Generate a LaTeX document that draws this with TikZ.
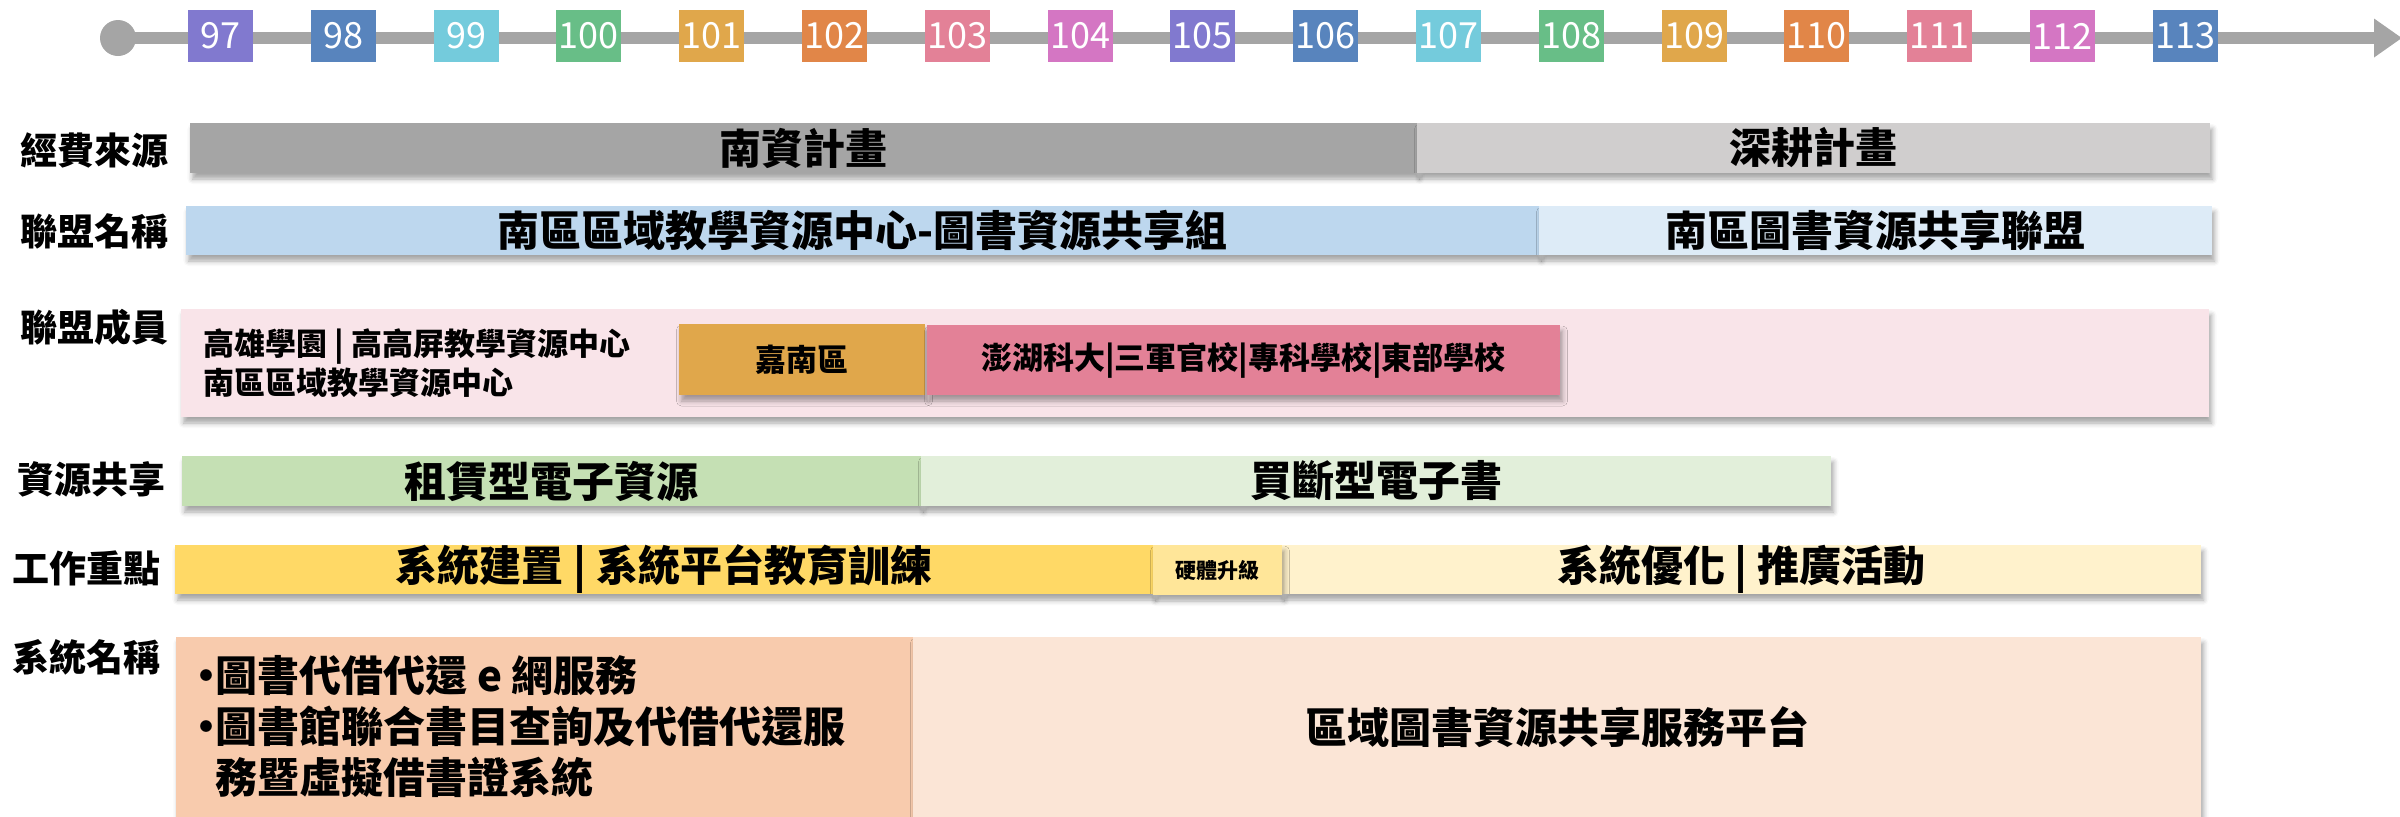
\documentclass[tikz,border=0pt]{standalone}
\usepackage{fontspec}
\setmainfont{Noto Sans CJK TC}
\usetikzlibrary{arrows.meta,shadows.blur}

\definecolor{tlgrey}{HTML}{A5A5A5}
\definecolor{yrpurple}{HTML}{8179CF}
\definecolor{yrblue}{HTML}{5884BD}
\definecolor{yrcyan}{HTML}{74CBDC}
\definecolor{yrgreen}{HTML}{68BE87}
\definecolor{yrorange}{HTML}{E0A74B}
\definecolor{yrdorange}{HTML}{E18648}
\definecolor{yrpink}{HTML}{E38197}
\definecolor{yrmagenta}{HTML}{D476C3}
\definecolor{fundgrey}{HTML}{A5A5A5}
\definecolor{fundlight}{HTML}{D0CECE}
\definecolor{allyblue}{HTML}{BDD7EE}
\definecolor{allylight}{HTML}{DDEBF7}
\definecolor{membpink}{HTML}{F9E4E9}
\definecolor{sharegreen}{HTML}{C5E0B4}
\definecolor{sharelight}{HTML}{E2EFDA}
\definecolor{workyellow}{HTML}{FFD966}
\definecolor{workmid}{HTML}{FFE699}
\definecolor{worklight}{HTML}{FFF2CC}
\definecolor{syspeach}{HTML}{F8CBAD}
\definecolor{syslight}{HTML}{FBE5D6}

\newcommand{\sysbullet}{\makebox[7.6pt][c]{•}}

\begin{document}
\begin{tikzpicture}[x=0.4pt,y=0.4pt,yscale=-1,
  yearbox/.style={fill=#1, text=white, minimum width=26pt, minimum height=20.8pt, inner sep=0pt, font=\fontsize{14.4}{16}\selectfont},
  rowlabel/.style={inner sep=0pt, font=\bfseries\fontsize{14.8}{17}\selectfont},
  bar/.style={inner sep=0pt, blur shadow={shadow xshift=1pt, shadow yshift=-2.4pt, shadow blur radius=2pt, shadow opacity=35}, font=\bfseries\fontsize{16.8}{20}\selectfont},
  smallbar/.style={bar, font=\bfseries\fontsize{12.4}{15}\selectfont}]
  \useasboundingbox (0,0) rectangle (2400,816);
  %Shape: Timeline
  \node[circle, fill=tlgrey, minimum size=14.4pt, inner sep=0pt] (tlstart) at (118,38) {};
  \coordinate (tlend) at (2402,38);
  \draw[line width=4.8pt, tlgrey, -{Triangle[length=11.2pt,width=14.8pt]}] (tlstart.center) -- (tlend);

  % Year Nodes
  \node[yearbox=yrpurple] (y97) at (220.5,36) {97};
  \node[yearbox=yrblue] (y98) at (343.3,36) {98};
  \node[yearbox=yrcyan] (y99) at (466.1,36) {99};
  \node[yearbox=yrgreen] (y100) at (588.9,36) {100};
  \node[yearbox=yrorange] (y101) at (711.7,36) {101};
  \node[yearbox=yrdorange] (y102) at (834.5,36) {102};
  \node[yearbox=yrpink] (y103) at (957.3,36) {103};
  \node[yearbox=yrmagenta] (y104) at (1080.1,36) {104};
  \node[yearbox=yrpurple] (y105) at (1202.9,36) {105};
  \node[yearbox=yrblue] (y106) at (1325.7,36) {106};
  \node[yearbox=yrcyan] (y107) at (1448.5,36) {107};
  \node[yearbox=yrgreen] (y108) at (1571.3,36) {108};
  \node[yearbox=yrorange] (y109) at (1694.1,36) {109};
  \node[yearbox=yrdorange] (y110) at (1816.9,36) {110};
  \node[yearbox=yrpink] (y111) at (1939.7,36) {111};
  \node[yearbox=yrmagenta] (y112) at (2062.5,36) {112};
  \node[yearbox=yrblue] (y113) at (2185.3,36) {113};

  % Row Labels
  \node[rowlabel] (lblfund) at (94,150) {經費來源};
  \node[rowlabel] (lblally) at (94,231) {聯盟名稱};
  \node[rowlabel] (lblmemb) at (94,327) {聯盟成員};
  \node[rowlabel] (lblshare) at (91.5,479) {資源共享};
  \node[rowlabel] (lblwork) at (86.5,568) {工作重點};
  \node[rowlabel] (lblsys) at (86,657) {系統名稱};

  %Shape: Funding
  \node[bar, fill=fundgrey, minimum width=490.8pt, minimum height=20pt] (fundA) at (803.5,148) {南資計畫};
  \node[bar, fill=fundlight, minimum width=317.2pt, minimum height=20pt] (fundB) at (1813.5,148) {深耕計畫};
  %Shape: Alliance
  \node[bar, fill=allyblue, minimum width=541.2pt, minimum height=19.6pt] (allyA) at (862.5,230.5) {南區區域教學資源中心-圖書資源共享組};
  \node[bar, fill=allylight, minimum width=269.2pt, minimum height=19.6pt] (allyB) at (1875.5,230.5) {南區圖書資源共享聯盟};
  %Shape: Members
  \node[bar, fill=membpink, minimum width=811.2pt, minimum height=43.2pt] (membbg) at (1195,363) {};
  \node[smallbar, fill=yrorange, minimum width=98.4pt, minimum height=28.4pt] (chianan) at (802,359.5) {嘉南區};
  \node[smallbar, fill=yrpink, minimum width=253.2pt, minimum height=28pt] (penghu) at (1243.5,360) {澎湖科大|三軍官校|專科學校|東部學校};
  % Text Node
  \node[anchor=west, align=left, inner sep=0pt, font=\bfseries\fontsize{12.4}{15.6}\selectfont] (membtext) at (203,363) {高雄學園 | 高高屏教學資源中心\\南區區域教學資源中心};
  %Shape: Sharing
  \node[bar, fill=sharegreen, minimum width=295.6pt, minimum height=20pt] (shareA) at (551.5,481) {租賃型電子資源};
  \node[bar, fill=sharelight, minimum width=364pt, minimum height=20pt] (shareB) at (1376,481) {買斷型電子書};
  %Shape: Work
  \node[bar, fill=workyellow, minimum width=391.2pt, minimum height=19.6pt] (workA) at (664,569.5) {系統建置 | 系統平台教育訓練};
  \node[bar, fill=worklight, minimum width=367.6pt, minimum height=19.6pt] (workC) at (1741.5,569.5) {系統優化 | 推廣活動};
  \node[bar, fill=workmid, minimum width=51.6pt, minimum height=20pt, font=\bfseries\fontsize{8.4}{10}\selectfont] (workB) at (1217.5,570) {硬體升級};
  %Shape: Systems
  \node[bar, fill=syspeach, minimum width=294.8pt, minimum height=72pt] (sysA) at (544.5,727) {};
  \node[bar, fill=syslight, minimum width=515.2pt, minimum height=72pt] (sysB) at (1557,727) {區域圖書資源共享服務平台};
  % Text Node
  \node[anchor=west, align=left, inner sep=0pt, font=\bfseries\fontsize{16.8}{20.4}\selectfont] (systext) at (196,727) {\sysbullet 圖書代借代還 e 網服務\\\sysbullet 圖書館聯合書目查詢及代借代還服\\\hspace*{7.6pt}務暨虛擬借書證系統};
\end{tikzpicture}
\end{document}
